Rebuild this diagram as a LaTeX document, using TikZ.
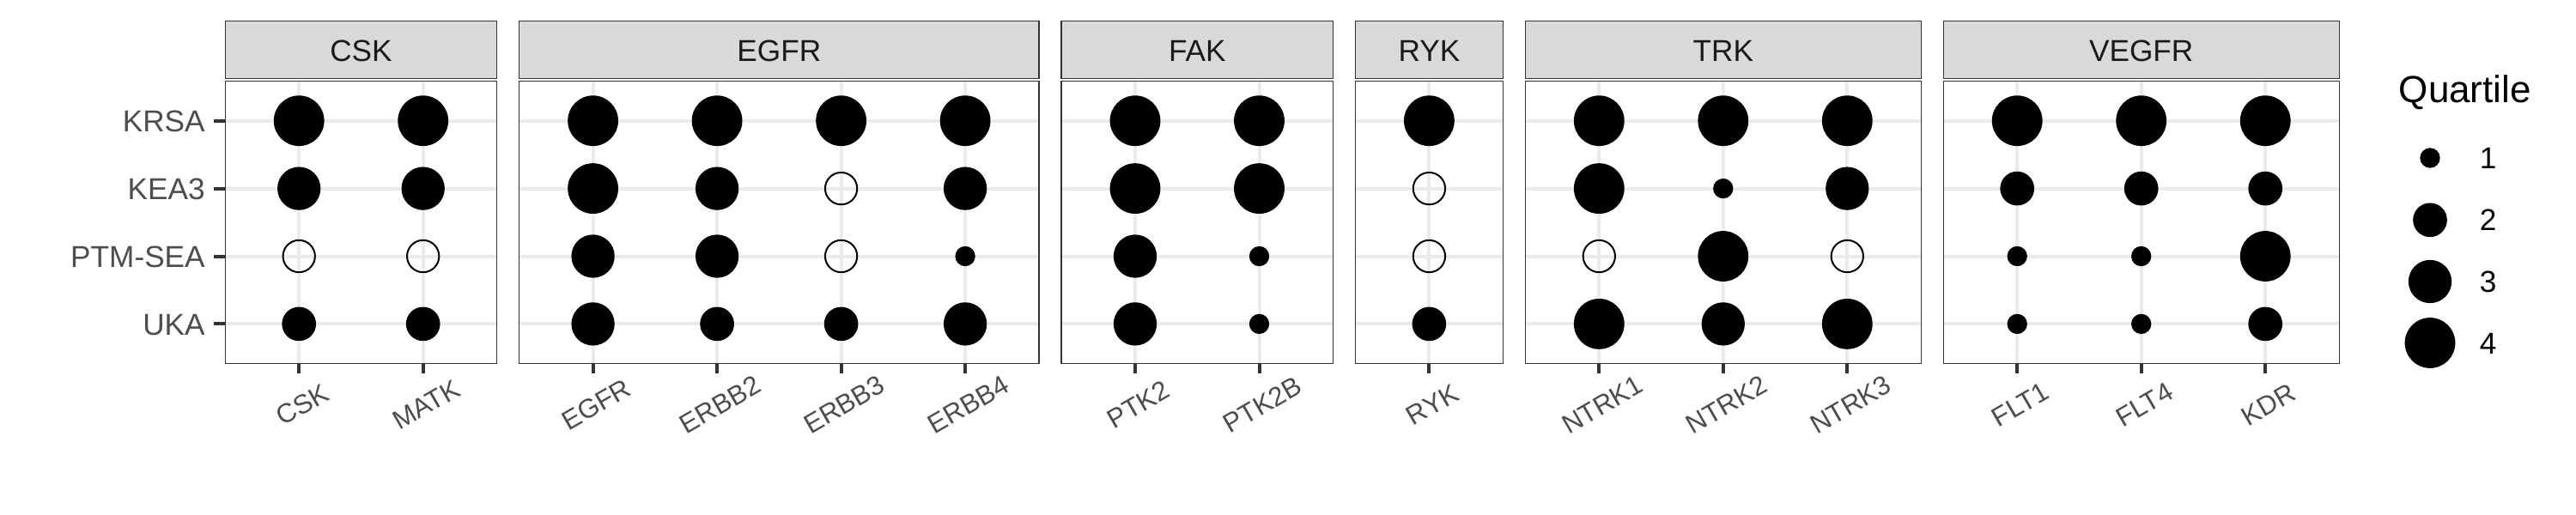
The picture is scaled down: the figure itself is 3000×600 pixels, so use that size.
\documentclass[tikz,border=0pt]{standalone}
\usepackage{fontspec}
\setmainfont{Liberation Sans}
\definecolor{grey10}{HTML}{1A1A1A}
\definecolor{grey20}{HTML}{333333}
\definecolor{grey30}{HTML}{4D4D4D}
\definecolor{grey85}{HTML}{D9D9D9}
\definecolor{grey92}{HTML}{EBEBEB}
\tikzset{
  gridline/.style={draw=grey92, line width=1pt},
  frame/.style={draw=grey20, line width=0.35pt},
  stripfill/.style={fill=grey85},
  tickline/.style={draw=grey20, line width=1pt},
  striptext/.style={font=\fontsize{8.8}{10}\selectfont, text=grey10, inner sep=0pt, text height=6.3pt, text depth=0pt, anchor=center},
  ylab/.style={font=\fontsize{8.8}{10}\selectfont, text=grey30, inner sep=0pt, text height=6.3pt, text depth=0pt, anchor=east},
  xlab/.style={font=\fontsize{7.8}{9}\selectfont, text=grey30, inner sep=0pt, text height=5.6pt, text depth=0pt, anchor=center, rotate=30},
  legtext/.style={font=\fontsize{8.8}{10}\selectfont, text=black, inner sep=0pt, text height=6.3pt, text depth=0pt, anchor=west},
  legtitle/.style={font=\fontsize{11}{13}\selectfont, text=black, inner sep=0pt, anchor=base west},
  dotbase/.style={circle, inner sep=0pt, outer sep=0pt},
  dot1/.style={dotbase, fill=black, minimum size=5.83pt},
  dot2/.style={dotbase, fill=black, minimum size=9.92pt},
  dot3/.style={dotbase, fill=black, minimum size=12.58pt},
  dot4/.style={dotbase, fill=black, minimum size=14.7pt},
  dot0/.style={dotbase, draw=black, line width=0.5pt, minimum size=9.33pt},
}
\begin{document}
\begin{tikzpicture}[x=0.25pt, y=-0.25pt]
\useasboundingbox[fill=white] (0,0) rectangle (3000,600);

% panel backgrounds, strips, horizontal grid
\foreach \pid/\ptitle/\L/\n in {csk/CSK/261.5/2, egfr/EGFR/603.9/4, fak/FAK/1235.3/2, ryk/RYK/1577.7/1, trk/TRK/1775.6/3, vegfr/VEGFR/2262.5/3}{
  \pgfmathsetmacro\R{\L+(\n+0.2)*144.5}
  \pgfmathsetmacro\C{(\L+\R)/2}
  \fill[stripfill] (\L,24) rectangle (\R,92.3);
  \draw[frame] (\L+0.7,24.7) rectangle (\R-0.7,91.6);
  \node[striptext] (s-\pid) at (\C,58.5) {\ptitle};
  \foreach \yy in {140.7,219.6,298.5,377.4}{
    \draw[gridline] (\L,\yy) -- (\R,\yy);
  }
}

% vertical grid, ticks and x labels
\foreach \cn/\x in {CSK/348.2, MATK/492.7, EGFR/690.6, ERBB2/835.1, ERBB3/979.6, ERBB4/1124.1, PTK2/1322, PTK2B/1466.5, RYK/1664.4, NTRK1/1862.3, NTRK2/2006.8, NTRK3/2151.3, FLT1/2349.2, FLT4/2493.7, KDR/2638.2}{
  \draw[gridline] (\x,94) -- (\x,424);
  \draw[tickline] (\x,424) -- (\x,435);
  \node[xlab] (x-\cn) at (\x+3.5,471) {\cn};
}

% dots
\foreach \cn/\x/\a/\b/\c/\d in {CSK/348.2/4/3/0/2, MATK/492.7/4/3/0/2, EGFR/690.6/4/4/3/3, ERBB2/835.1/4/3/3/2, ERBB3/979.6/4/0/0/2, ERBB4/1124.1/4/3/1/3, PTK2/1322/4/4/3/3, PTK2B/1466.5/4/4/1/1, RYK/1664.4/4/0/0/2, NTRK1/1862.3/4/4/0/4, NTRK2/2006.8/4/1/4/3, NTRK3/2151.3/4/3/0/4, FLT1/2349.2/4/2/1/1, FLT4/2493.7/4/2/1/1, KDR/2638.2/4/2/4/2}{
  \node[dot\a] (d-\cn-1) at (\x,140.7) {};
  \node[dot\b] (d-\cn-2) at (\x,219.6) {};
  \node[dot\c] (d-\cn-3) at (\x,298.5) {};
  \node[dot\d] (d-\cn-4) at (\x,377.4) {};
}

% panel borders
\foreach \L/\n in {261.5/2, 603.9/4, 1235.3/2, 1577.7/1, 1775.6/3, 2262.5/3}{
  \pgfmathsetmacro\R{\L+(\n+0.2)*144.5}
  \draw[frame] (\L+0.7,94.7) rectangle (\R-0.7,423.3);
}

% y axis
\foreach \rn/\yy/\id in {KRSA/140.7/1, KEA3/219.6/2, PTM-SEA/298.5/3, UKA/377.4/4}{
  \draw[tickline] (249,\yy) -- (261.5,\yy);
  \node[ylab] (y-\id) at (239.5,\yy) {\rn};
}

% legend
\node[legtitle] (lt) at (2793,120) {Quartile};
\foreach \k/\yy in {1/184, 2/256.3, 3/328, 4/399.5}{
  \node[dot\k] (k-\k) at (2830,\yy) {};
  \node[legtext] (l-\k) at (2887,\yy) {\k};
}
\end{tikzpicture}
\end{document}
